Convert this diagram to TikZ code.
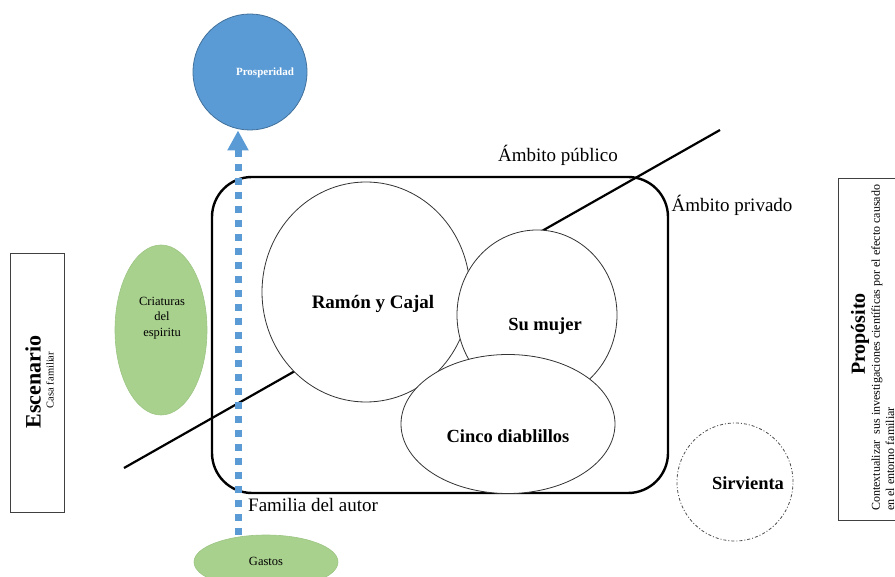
\documentclass[tikz,border=0pt]{standalone}
\usepackage{fontspec}
\setmainfont{Liberation Serif}
\usetikzlibrary{arrows.meta,shapes.geometric}
\definecolor{prospfill}{HTML}{5B9BD5}
\definecolor{prospedge}{HTML}{41719C}
\definecolor{greenfill}{HTML}{A9D18E}
\definecolor{greenedge}{HTML}{9CC583}
\definecolor{arrowblue}{HTML}{5B9BD5}
\newcommand{\fs}[1]{\fontsize{#1}{#1}\selectfont}
\tikzset{
  bubble/.style={ellipse, draw=black!80, line width=0.8pt, fill=white, inner sep=0pt},
  greenblob/.style={ellipse, fill=greenfill, draw=greenedge, line width=0.6pt, inner sep=0pt},
  sidebox/.style={draw=black!75, line width=0.8pt, inner sep=0pt},
  plain/.style={inner sep=0pt, font=\fs{19}},
  boldlabel/.style={inner sep=0pt, font=\fs{18.5}\bfseries},
}
\begin{document}
\begin{tikzpicture}[x=1pt,y=-1pt]
\useasboundingbox (0,0) rectangle (895,577);

% family frame and the public/private dividing line
\draw[line width=2.4pt, rounded corners=40pt] (212,177) rectangle (668,493);
\coordinate (divlow) at (124,468);
\coordinate (divhigh) at (720,130);
\draw[line width=2.2pt] (divlow) -- (divhigh);

% members of the family
\node[bubble, minimum width=208pt, minimum height=220pt] (ramon) at (366,292) {};
\node[boldlabel, font=\fs{19}\bfseries] at (373,304) {Ramón y Cajal};
\node[bubble, minimum width=160pt, minimum height=170pt] (mujer) at (537,315) {};
\node[boldlabel] at (545,326) {Su mujer};
\node[bubble, minimum width=214pt, minimum height=139pt] (cinco) at (508,424) {};
\node[boldlabel] at (508,436) {Cinco diablillos};

\node[ellipse, draw=black!70, line width=0.8pt, dash pattern=on 3pt off 2pt on 1pt off 2pt,
      minimum width=116pt, minimum height=118pt, inner sep=0pt] (sirvienta) at (735,482) {};
\node[boldlabel] at (748,483) {Sirvienta};

% area labels
\node[plain] (publico) at (558,155) {Ámbito público};
\node[plain] (privado) at (732,205) {Ámbito privado};
\node[plain, anchor=west] (familia) at (248,505) {Familia del autor};

% coloured ellipses
\node[ellipse, fill=prospfill, draw=prospedge, line width=0.8pt, minimum width=114pt,
      minimum height=116pt, inner sep=0pt] (prosp) at (250,72) {};
\node[text=white, font=\fs{11}\bfseries, inner sep=0pt] at (265,73) {Prosperidad};

\node[greenblob, minimum width=92pt, minimum height=170pt] (criaturas) at (161,330) {};
\node[align=center, font=\fs{12.5}, inner sep=0pt] at (162,318)
  {Criaturas\\[3pt]del\\[3pt]espiritu};

\node[greenblob, minimum width=144pt, minimum height=54pt] (gastos) at (266,562) {};
\node[font=\fs{12.5}, inner sep=0pt] at (266,561) {Gastos};

% dotted arrow from expenses to prosperity
\coordinate (arrowstart) at (238,535);
\draw[arrowblue, line width=7pt, dash pattern=on 7pt off 7pt,
      -{Triangle[width=20pt,length=20pt]}]
  (arrowstart) -- (prosp.south -| arrowstart);

% side panels
\node[sidebox, minimum width=54pt, minimum height=259pt] (escenario) at (37,382.5) {};
\node[rotate=90, font=\fs{22}\bfseries, inner sep=0pt] at (33,382) {Escenario};
\node[rotate=90, font=\fs{10.5}, inner sep=0pt] at (50,380) {Casa familiar};

\node[sidebox, minimum width=70pt, minimum height=342pt] (proposito) at (873,349) {};
\node[rotate=90, font=\fs{20}\bfseries, inner sep=0pt] at (860,334) {Propósito};
\node[rotate=90, anchor=west, font=\fs{12}, inner sep=0pt] at (877,511)
  {Contextualizar\ \ sus investigaciones científicas por el efecto causado};
\node[rotate=90, anchor=west, font=\fs{12}, inner sep=0pt] at (890,511)
  {en el entorno familiar};
\end{tikzpicture}
\end{document}
